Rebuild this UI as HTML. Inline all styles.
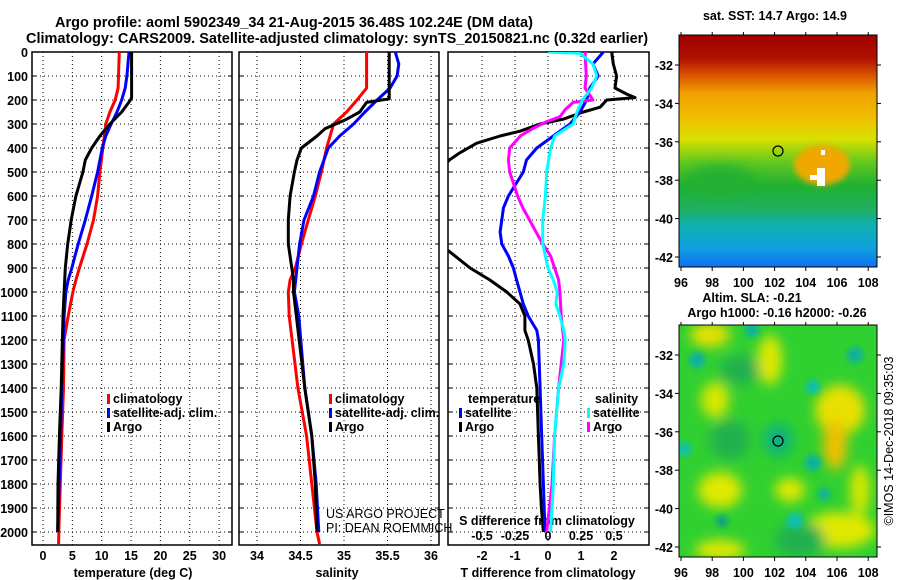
<!DOCTYPE html>
<html><head><meta charset="utf-8"><style>
html,body{margin:0;padding:0;background:#fff;}
svg{display:block;font-family:"Liberation Sans",Arial,sans-serif;}
.b{font-weight:bold;font-size:12.5px;fill:#000;}
.t{font-weight:bold;font-size:14.5px;fill:#000;}
.g{stroke:#000;stroke-width:1;stroke-dasharray:1,3;fill:none;}
</style></head><body>
<svg id="fig" width="900" height="580" viewBox="0 0 900 580">
<text class="t" x="55" y="27">Argo profile: aoml 5902349_34 21-Aug-2015 36.48S 102.24E (DM data)</text>
<text class="t" x="26" y="43">Climatology: CARS2009. Satellite-adjusted climatology: synTS_20150821.nc (0.32d earlier)</text>
<defs>
<clipPath id="c1"><rect x="32" y="52" width="200" height="493"/></clipPath>
<clipPath id="c2"><rect x="239" y="52" width="200" height="493"/></clipPath>
<clipPath id="c3"><rect x="448" y="52" width="201" height="493"/></clipPath>
<clipPath id="m1"><rect x="679" y="35" width="198" height="232"/></clipPath>
<clipPath id="m2"><rect x="679" y="325" width="198" height="232"/></clipPath>
<linearGradient id="sst" x1="0" y1="0" x2="0" y2="1">
<stop offset="0" stop-color="#a00000"/><stop offset="0.1" stop-color="#b01000"/>
<stop offset="0.17" stop-color="#d85000"/><stop offset="0.25" stop-color="#f0a000"/>
<stop offset="0.36" stop-color="#f0c000"/><stop offset="0.45" stop-color="#d8e000"/>
<stop offset="0.55" stop-color="#60c820"/><stop offset="0.65" stop-color="#20b030"/>
<stop offset="0.75" stop-color="#20b060"/><stop offset="0.82" stop-color="#10b0b0"/>
<stop offset="0.92" stop-color="#10a0e0"/><stop offset="1" stop-color="#1070f0"/>
</linearGradient>
<filter id="bl" x="-50%" y="-50%" width="200%" height="200%"><feGaussianBlur stdDeviation="6"/></filter>
<filter id="bl2" x="-50%" y="-50%" width="200%" height="200%"><feGaussianBlur stdDeviation="3"/></filter>
</defs>
<g id="plots"></g>
<g id="maps">
<g clip-path="url(#m1)">
<rect x="679" y="35" width="198" height="232" fill="url(#sst)"/>
<ellipse cx="822" cy="165" rx="28" ry="20" fill="#f0a800" filter="url(#bl2)"/>
<ellipse cx="720" cy="180" rx="35" ry="14" fill="#20b030" filter="url(#bl)"/>
<rect x="817" y="168" width="8" height="18" fill="#fff"/><rect x="810" y="175" width="10" height="5" fill="#fff"/>
<rect x="821" y="150" width="4" height="5" fill="#fff"/>
</g>
<g clip-path="url(#m2)">
<rect x="679" y="325" width="198" height="232" fill="#30d030"/>
<g filter="url(#bl)">
<ellipse cx="710" cy="335" rx="20" ry="12" fill="#e8e000"/>
<ellipse cx="770" cy="360" rx="12" ry="25" fill="#e0e800"/>
<ellipse cx="715" cy="400" rx="14" ry="18" fill="#d8e800"/>
<ellipse cx="840" cy="410" rx="25" ry="25" fill="#e8e000"/>
<ellipse cx="835" cy="445" rx="12" ry="25" fill="#f0c000"/>
<ellipse cx="720" cy="490" rx="22" ry="18" fill="#e0e800"/>
<ellipse cx="790" cy="490" rx="15" ry="12" fill="#e0e800"/>
<ellipse cx="840" cy="530" rx="35" ry="18" fill="#e0e800"/>
<ellipse cx="720" cy="550" rx="25" ry="10" fill="#e0e800"/>
<ellipse cx="860" cy="490" rx="10" ry="25" fill="#d8e800"/>
<ellipse cx="730" cy="440" rx="20" ry="20" fill="#20b050"/>
<ellipse cx="778" cy="440" rx="14" ry="16" fill="#10b080"/>
<ellipse cx="800" cy="540" rx="25" ry="18" fill="#20b050"/>
<ellipse cx="740" cy="370" rx="20" ry="15" fill="#20b050"/>
</g>
<g filter="url(#bl2)">
<circle cx="697" cy="360" r="8" fill="#10b0a0"/><circle cx="752" cy="330" r="7" fill="#10b0a0"/>
<circle cx="813" cy="387" r="7" fill="#10c0b0"/><circle cx="684" cy="449" r="7" fill="#10c0b0"/>
<circle cx="813" cy="463" r="8" fill="#10b0a0"/><circle cx="824" cy="494" r="6" fill="#10b0a0"/>
<circle cx="795" cy="521" r="8" fill="#10c0b0"/><circle cx="722" cy="521" r="6" fill="#10a080"/>
<circle cx="855" cy="355" r="8" fill="#10b0a0"/>
</g>
</g>
<rect x="679" y="35" width="198" height="232" fill="none" stroke="#000"/>
<rect x="679" y="325" width="198" height="232" fill="none" stroke="#000"/>
<circle cx="778" cy="151" r="5" fill="none" stroke="#000" stroke-width="1.2"/>
<circle cx="778" cy="441" r="5" fill="none" stroke="#000" stroke-width="1.2"/>
<text class="b" x="775" y="20" text-anchor="middle">sat. SST: 14.7 Argo: 14.9</text>
<text class="b" x="752" y="302" text-anchor="middle">Altim. SLA: -0.21</text>
<text class="b" x="777" y="317" text-anchor="middle">Argo h1000: -0.16 h2000: -0.26</text>
<text x="893" y="441" transform="rotate(-90 893 441)" text-anchor="middle" font-size="12.5">©IMOS 14-Dec-2018 09:35:03</text>
</g>
<script>
// ---- data ----
const depthTick=[0,100,200,300,400,500,600,700,800,900,1000,1100,1200,1300,1400,1500,1600,1700,1800,1900,2000];
const tempTicks=[0,5,10,15,20,25,30];
const salTicks=[34,34.5,35,35.5,36];
const salTickLabels=["34","34.5","35","35.5","36"];
const tdTicks=[-2,-1,0,1,2];
const sdTicks=[-0.5,-0.25,0,0.25,0.5];
const sdTickLabels=["-0.5","-0.25","0","0.25","0.5"];
const lonTicks=[96,98,100,102,104,106,108];
const latTicks=[-32,-34,-36,-38,-40,-42];

const tArgoD=[0,190,200,250,300,350,400,450,500,600,700,800,900,1000,1100,1400,1600,1800,2000];
const tArgo=[15.1,15.1,14.9,13.4,11.4,9.7,8.3,7.2,6.8,5.6,4.8,4.2,3.8,3.6,3.4,3.1,2.8,2.55,2.5];
const tClimD=[0,150,200,250,300,400,500,600,700,800,900,950,1000,1100,1200,1400,1600,1800,2000,2050];
const tClim=[13.0,12.8,12.3,11.4,10.7,10.2,9.7,9.3,8.6,7.5,6.2,5.6,5.1,4.3,3.6,3.5,3.2,2.95,2.7,2.65];
const tSatD=[0,100,150,200,250,300,350,400,500,600,700,800,900,950,1000,1100,1400,1600,1800,2000];
const tSat=[14.65,14.3,14.0,13.4,12.6,11.6,10.7,10.1,9.3,8.3,7.2,6.0,4.9,4.3,3.9,3.6,3.2,3.0,2.75,2.5];

const sArgoD=[0,195,210,250,280,320,350,400,450,500,600,700,800,900,950,1000,1400,1600,1800,2000];
const sArgo=[35.52,35.52,35.26,35.18,35.03,34.78,34.69,34.51,34.46,34.43,34.38,34.36,34.36,34.40,34.42,34.42,34.55,34.63,34.67,34.69];
const sClimD=[0,150,200,250,300,400,500,600,700,800,900,950,1000,1100,1400,1600,1800,2000,2050];
const sClim=[35.26,35.26,35.15,35.03,34.88,34.80,34.74,34.67,34.59,34.51,34.44,34.38,34.36,34.37,34.47,34.57,34.63,34.69,34.72];
const sSatD=[0,50,100,150,200,250,300,350,400,500,600,700,800,900,1000,1100,1400,1600,1800,2000];
const sSat=[35.59,35.63,35.61,35.53,35.38,35.24,35.11,34.95,34.82,34.72,34.65,34.54,34.49,34.46,34.43,34.48,34.55,34.63,34.68,34.71];

const dtArgoD=[0,50,100,150,175,190,200,230,250,280,300,330,350,380,420,450,500,800,830,900,950,1000,1050,1100,1160,1200,1300,1400,1600,1800,1900,2000];
const dtArgo=[1.93,1.98,2.08,2.03,2.38,2.64,1.78,1.58,1.07,0.46,-0.24,-0.85,-1.45,-2.16,-2.67,-2.99,-3.3,-3.3,-3.0,-2.36,-1.76,-1.25,-0.85,-0.7,-0.7,-0.6,-0.44,-0.34,-0.29,-0.24,-0.2,-0.14];
const dtSatD=[0,50,100,150,200,250,300,350,400,450,500,600,650,700,750,800,850,900,950,1000,1050,1100,1160,1200,1400,1600,1800,2000];
const dtSat=[1.68,1.36,1.52,1.27,1.17,0.97,0.67,0.16,-0.34,-0.65,-0.75,-1.2,-1.35,-1.4,-1.45,-1.4,-1.2,-1.05,-0.95,-0.85,-0.75,-0.6,-0.34,-0.29,-0.24,-0.19,-0.14,-0.09];
const dsArgoD=[0,100,150,200,210,240,270,290,320,350,400,450,500,550,600,650,700,750,800,850,900,950,1000,1100,1200,1300,1400,1600,1800,2000];
const dsArgo=[0.28,0.29,0.28,0.34,0.19,0.13,0.09,-0.01,-0.12,-0.21,-0.29,-0.30,-0.29,-0.26,-0.23,-0.19,-0.14,-0.09,-0.04,0.02,0.05,0.08,0.09,0.10,0.12,0.10,0.08,0.05,0.03,-0.01];
const dsSatD=[0,5,50,100,150,200,250,300,350,400,500,600,700,800,900,950,1000,1050,1100,1160,1200,1300,1400,1600,1800,2000];
const dsSat=[0.0,0.24,0.34,0.37,0.33,0.26,0.22,0.19,0.05,0.02,-0.01,-0.02,-0.04,-0.04,0.0,0.04,0.07,0.06,0.09,0.12,0.13,0.12,0.08,0.05,0.04,0.02];

// ---- axes ----
const NS='http://www.w3.org/2000/svg';
const root=document.getElementById('plots');
const yD=d=>52+0.24*d;
const xT=v=>43+5.87*v;
const xS=v=>257+87*(v-34);
const xDT=v=>548+33*v;
const xDS=v=>548+132*v;
function mk(tag,attrs,parent){const e=document.createElementNS(NS,tag);for(const k in attrs)e.setAttribute(k,attrs[k]);(parent||root).appendChild(e);return e;}
function line(d,v,xf,col,clip,name){
  const pts=d.map((dd,i)=>xf(v[i]).toFixed(1)+','+yD(dd).toFixed(1)).join(' ');
  const p=mk('polyline',{points:pts,fill:'none',stroke:col,'stroke-width':3,'stroke-linejoin':'round','clip-path':'url(#'+clip+')'});
  
  
}
const panels=[{x:32,w:200,clip:'c1',name:'temperature-panel'},{x:239,w:200,clip:'c2',name:'salinity-panel'},{x:448,w:201,clip:'c3',name:'difference-panel'}];
panels.forEach(P=>{
  const g=mk('g',{});
  
  
  depthTick.forEach(d=>{ if(d>0) mk('line',{x1:P.x,x2:P.x+P.w,y1:yD(d),y2:yD(d),class:'g'},g);
    mk('line',{x1:P.x,x2:P.x+4,y1:yD(d),y2:yD(d),stroke:'#000'},g);
    mk('line',{x1:P.x+P.w-4,x2:P.x+P.w,y1:yD(d),y2:yD(d),stroke:'#000'},g);});
  mk('rect',{x:P.x,y:52,width:P.w,height:493,fill:'none',stroke:'#000','stroke-width':1.5},g);
});
depthTick.forEach(d=>{const t=mk('text',{x:28,y:yD(d)+5,class:'b','text-anchor':'end'});t.textContent=d;
  
  });
tempTicks.forEach(v=>{mk('line',{x1:xT(v),x2:xT(v),y1:52,y2:545,class:'g'});
  const t=mk('text',{x:xT(v),y:560,class:'b','text-anchor':'middle'});t.textContent=v;
  
  });
salTicks.forEach((v,i)=>{mk('line',{x1:xS(v),x2:xS(v),y1:52,y2:545,class:'g'});
  const t=mk('text',{x:xS(v),y:560,class:'b','text-anchor':'middle'});t.textContent=salTickLabels[i];
  
  });
[-3,-2,-1,0,1,2].forEach(v=>{if(v>-3)mk('line',{x1:xDT(v),x2:xDT(v),y1:52,y2:545,class:'g'});});
tdTicks.forEach(v=>{const t=mk('text',{x:xDT(v),y:560,class:'b','text-anchor':'middle'});t.textContent=v;
  
  });
sdTicks.forEach((v,i)=>{const t=mk('text',{x:xDS(v),y:540,class:'b','text-anchor':'middle'});t.textContent=sdTickLabels[i];
  
  });
[['temperature (deg C)',133,'temperature-axis-title'],['salinity',337,'salinity-axis-title'],['T difference from climatology',548,'t-diff-axis-title']].forEach(a=>{
  const t=mk('text',{x:a[1],y:577,class:'b','text-anchor':'middle'});t.textContent=a[0];
  
  });
{const t=mk('text',{x:547,y:525,class:'b','text-anchor':'middle'});t.textContent='S difference from climatology';
  
  }

// series
line(tClimD,tClim,xT,'#ff0000','c1','temp-climatology-line');
line(tSatD,tSat,xT,'#0000ff','c1','temp-satellite-line');
line(tArgoD,tArgo,xT,'#000000','c1','temp-argo-line');
line(sClimD,sClim,xS,'#ff0000','c2','sal-climatology-line');
line(sSatD,sSat,xS,'#0000ff','c2','sal-satellite-line');
line(sArgoD,sArgo,xS,'#000000','c2','sal-argo-line');
line(dtArgoD,dtArgo,xDT,'#000000','c3','t-diff-argo-line');
line(dtSatD,dtSat,xDT,'#0000ff','c3','t-diff-satellite-line');
line(dsArgoD,dsArgo,xDS,'#ff00ff','c3','s-diff-argo-line');
line(dsSatD,dsSat,xDS,'#00ffff','c3','s-diff-satellite-line');

// legends
function leg(x,y,col,txt,name){
  mk('rect',{x:x,y:y-9,width:3,height:10,fill:col});
  const t=mk('text',{x:x+6,y:y,class:'b'});t.textContent=txt;
  
  
}
leg(107,403,'#ff0000','climatology','legend-temp-climatology');
leg(107,417,'#0000ff','satellite-adj. clim.','legend-temp-satellite');
leg(107,431,'#000','Argo','legend-temp-argo');
leg(329,403,'#ff0000','climatology','legend-sal-climatology');
leg(329,417,'#0000ff','satellite-adj. clim.','legend-sal-satellite');
leg(329,431,'#000','Argo','legend-sal-argo');
{const t=mk('text',{x:468,y:403,class:'b'});t.textContent='temperature';
 
 }
leg(459,417,'#0000ff','satellite','legend-tdiff-satellite');
leg(459,431,'#000','Argo','legend-tdiff-argo');
{const t=mk('text',{x:595,y:403,class:'b'});t.textContent='salinity';
 
 }
leg(587,417,'#00ffff','satellite','legend-sdiff-satellite');
leg(587,431,'#ff00ff','Argo','legend-sdiff-argo');
[['US ARGO PROJECT',518,'project-label'],['PI: DEAN ROEMMICH',532,'pi-label']].forEach(a=>{
  const t=mk('text',{x:326,y:a[1],'font-size':12.5,fill:'#000'});t.textContent=a[0];
  
  });

// map ticks
const mg=document.getElementById('maps');
const xLon=v=>681+15.6*(v-96);
[[65,282],[355,572]].forEach(([y32,ly])=>{
  const yLat=v=>y32+19.2*(-32-v);
  lonTicks.forEach(v=>{
    const t=mk('text',{x:xLon(v),y:ly+5,class:'b','text-anchor':'middle'},mg);t.textContent=v;
    
    
    mk('line',{x1:xLon(v),x2:xLon(v),y1:y32-30,y2:y32-33,stroke:'#000'},mg);
    mk('line',{x1:xLon(v),x2:xLon(v),y1:y32+202,y2:y32+206,stroke:'#000'},mg);});
  latTicks.forEach(v=>{
    const t=mk('text',{x:673,y:yLat(v)+5,class:'b','text-anchor':'end'},mg);t.textContent=v;
    
    
    mk('line',{x1:877,x2:881,y1:yLat(v),y2:yLat(v),stroke:'#000'},mg);
    mk('line',{x1:675,x2:679,y1:yLat(v),y2:yLat(v),stroke:'#000'},mg);});
});
</script>
</svg>
</body></html>
